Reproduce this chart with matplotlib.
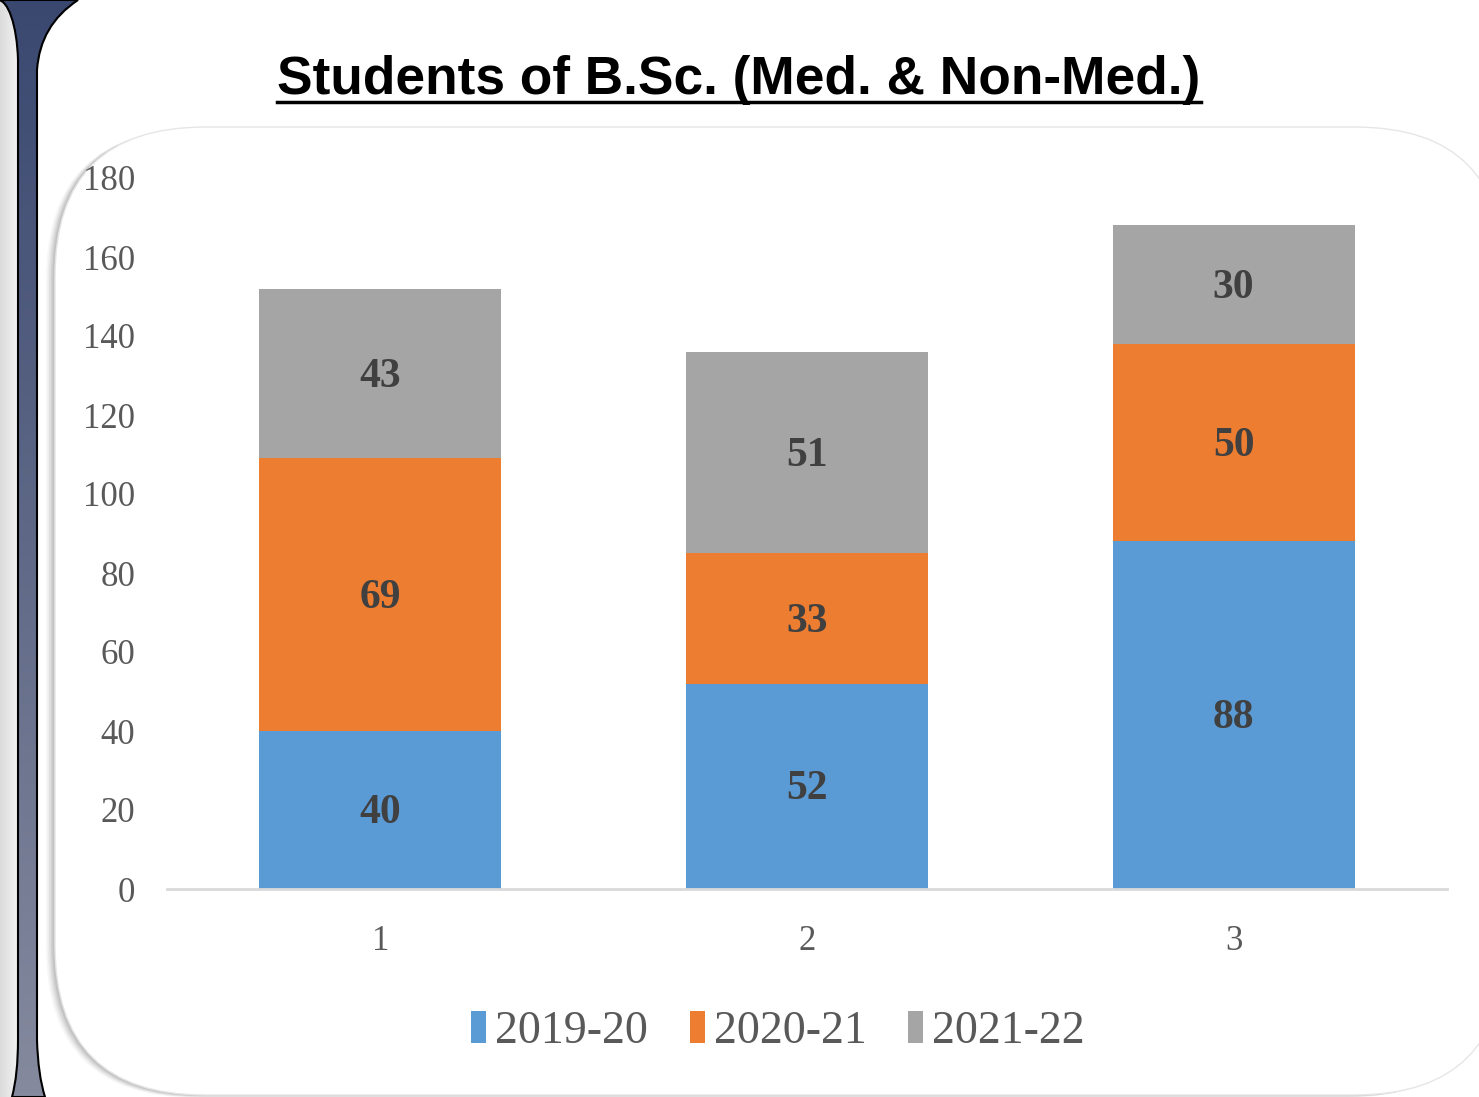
import numpy as np
import matplotlib
matplotlib.use("Agg")
import matplotlib.pyplot as plt
from matplotlib.patches import FancyBboxPatch, PathPatch, Patch
from matplotlib.path import Path
from matplotlib.lines import Line2D

categories = ["1", "2", "3"]
series_names = ["2019-20", "2020-21", "2021-22"]
vals_2019 = [40, 52, 88]
vals_2020 = [69, 33, 50]
vals_2021 = [43, 51, 30]
colors = ["#5b9bd5", "#ed7d31", "#a5a5a5"]
yticks = [0, 20, 40, 60, 80, 100, 120, 140, 160, 180]

W, H = 1479, 1097
fig = plt.figure(figsize=(W / 100, H / 100), dpi=100)
fig.patch.set_facecolor("white")

# background decoration in pixel coords
bg = fig.add_axes([0, 0, 1, 1], zorder=-1)
bg.set_xlim(0, W)
bg.set_ylim(H, 0)
bg.axis("off")

# light grey strip at far left
grad = np.linspace(0.86, 0.96, 50).reshape(1, -1)
bg.imshow(np.dstack([grad, grad, grad]), extent=(0, 20, H, 0), aspect="auto", zorder=0)

# navy band with flared ends
verts = [(-2, 0), (8, 0), (17, 25), (18, 60),
         (18, 1040), (18, 1075), (12, 1097),
         (45, 1097), (38, 1075), (37, 1040),
         (37, 70), (40, 25), (78, 0), (-2, 0)]
codes = [Path.MOVETO, Path.CURVE4, Path.CURVE4, Path.CURVE4,
         Path.LINETO, Path.CURVE3, Path.CURVE3,
         Path.LINETO, Path.CURVE3, Path.CURVE3,
         Path.LINETO, Path.CURVE3, Path.CURVE3, Path.CLOSEPOLY]
band = PathPatch(Path(verts, codes), facecolor="none", edgecolor="black", lw=1.5, zorder=3)
bg.add_patch(band)
g = np.linspace(0, 1, 256).reshape(-1, 1)
top_c = np.array([0x3a, 0x48, 0x70]) / 255
bot_c = np.array([0x85, 0x8a, 0x9e]) / 255
img = top_c * (1 - g[..., None]) + bot_c * g[..., None]
im = bg.imshow(img, extent=(-2, 80, H, 0), aspect="auto", zorder=2)
im.set_clip_path(band)

# rounded panel with soft shadow
for i, a in enumerate([0.03, 0.04, 0.05, 0.06, 0.07]):
    off = 9 - i * 1.6
    sh = FancyBboxPatch((55 - off, 127 + off * 0.3), 1450, 968,
                        boxstyle="round,pad=0,rounding_size=150",
                        facecolor="black", edgecolor="none", alpha=a, zorder=4)
    bg.add_patch(sh)
panel = FancyBboxPatch((55, 127), 1450, 968, boxstyle="round,pad=0,rounding_size=150",
                       facecolor="white", edgecolor="#e6e6e6", lw=1.0, zorder=5)
bg.add_patch(panel)

# title with underline
title = fig.text(739 / W, 1 - 80 / H, "Students of B.Sc. (Med. & Non-Med.)",
                 ha="center", va="center", fontsize=38.3, fontweight="bold",
                 family="Liberation Sans", color="black")
fig.canvas.draw()
bb = title.get_window_extent()
uy = 1 - 102 / H
fig.add_artist(Line2D([bb.x0 / W, bb.x1 / W], [uy, uy], color="black", lw=2.5))

# chart
ax = fig.add_axes([167 / W, 1 - 889 / H, 1280 / W, 711 / H])
ax.set_facecolor("none")
x = np.arange(1, len(categories) + 1)
bottom = np.zeros(len(categories))
for vals, c, name in zip([vals_2019, vals_2020, vals_2021], colors, series_names):
    bars = ax.bar(x, vals, bottom=bottom, width=0.567, color=c, label=name, zorder=2)
    for b, v, b0 in zip(bars, vals, bottom):
        ax.text(b.get_x() + b.get_width() / 2, b0 + v / 2 - 0.8, str(v), ha="center", va="center",
                fontsize=30, fontweight="bold", family="Liberation Serif", color="#404040")
    bottom = bottom + np.array(vals)

ax.set_xlim(0.5, 3.5)
ax.set_ylim(0, 180)
ax.set_yticks(yticks)
ax.set_xticks(x)
ax.set_xticklabels(categories)
for s in ["top", "right", "left"]:
    ax.spines[s].set_visible(False)
ax.spines["bottom"].set_color("#d9d9d9")
ax.spines["bottom"].set_linewidth(2)
ax.tick_params(axis="both", length=0, labelsize=25, labelcolor="#595959")
ax.tick_params(axis="y", pad=23)
ax.tick_params(axis="x", pad=26)
for lab in ax.get_xticklabels() + ax.get_yticklabels():
    lab.set_family("Liberation Serif")

handles = [Patch(facecolor=c, label=n) for c, n in zip(colors, series_names)]
leg = fig.legend(handles=handles, loc="center", bbox_to_anchor=(778 / W, 1 - 1032 / H),
                 ncol=3, frameon=False, handlelength=0.33, handleheight=0.7,
                 handletextpad=0.2, columnspacing=0.9,
                 prop={"family": "Liberation Serif", "size": 33})
for t in leg.get_texts():
    t.set_color("#595959")

fig.savefig("out.png", dpi=100)
